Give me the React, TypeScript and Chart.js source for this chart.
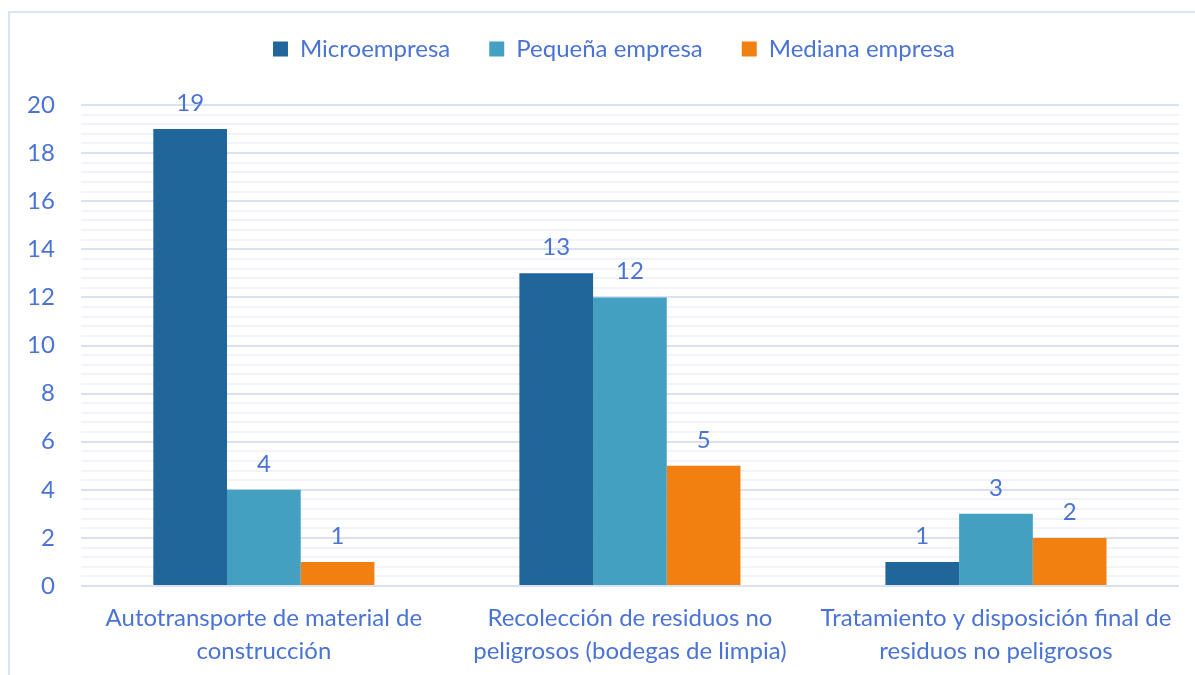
import React, { useEffect, useRef } from "react";
import { Chart, registerables } from "chart.js";

Chart.register(...registerables);

const categories: string[][] = [
  ["Autotransporte de material de", "construcción"],
  ["Recolección de residuos no", "peligrosos (bodegas de limpia)"],
  ["Tratamiento y disposición final de", "residuos no peligrosos"],
];
const seriesNames = ["Microempresa", "Pequeña empresa", "Mediana empresa"];
const micro = [19, 13, 1];
const pequena = [4, 12, 3];
const mediana = [1, 5, 2];
const seriesColors = ["#20669B", "#43A0C0", "#F18010"];

const yMin = 0;
const yMax = 20;
const yMinorStep = 0.4;
const yMajorStep = 2;

const TEXT = "#4A73D6";
const FONT = "Lato";
const FS = 24;

const isMajor = (v: number) => Math.abs(v / yMajorStep - Math.round(v / yMajorStep)) < 1e-6;

const valueLabels = {
  id: "valueLabels",
  afterDatasetsDraw(chart: any) {
    const ctx = chart.ctx;
    ctx.save();
    ctx.fillStyle = TEXT;
    ctx.font = `${FS}px ${FONT}`;
    ctx.textAlign = "center";
    ctx.textBaseline = "alphabetic";
    chart.data.datasets.forEach((ds: any, i: number) => {
      const meta = chart.getDatasetMeta(i);
      meta.data.forEach((bar: any, j: number) => {
        ctx.fillText(String(ds.data[j]), bar.x, bar.y - 18);
      });
    });
    ctx.restore();
  },
};

const legendGap = {
  id: "legendGap",
  beforeInit(chart: any) {
    const legend = chart.legend;
    if (!legend) return;
    const orig = legend.fit;
    legend.fit = function () {
      orig.call(this);
      this.height += 34;
    };
  },
  afterLayout(chart: any) {
    const legend = chart.legend;
    if (!legend) return;
    legend.left += 24;
    legend.right += 24;
  },
};

export default function App() {
  const ref = useRef<HTMLCanvasElement | null>(null);
  useEffect(() => {
    if (!ref.current) return;
    const chart = new Chart(ref.current, {
      type: "bar",
      data: {
        labels: categories,
        datasets: [micro, pequena, mediana].map((d, i) => ({
          label: seriesNames[i],
          data: d,
          backgroundColor: seriesColors[i],
          barPercentage: 1,
          categoryPercentage: 0.604,
        })),
      },
      options: {
        responsive: false,
        animation: false,
        layout: { padding: { left: 1, right: 16, top: -2, bottom: -1 } },
        plugins: {
          legend: {
            position: "top",
            labels: {
              color: TEXT,
              font: { family: FONT, size: FS },
              boxWidth: 15,
              boxHeight: 15,
              padding: 39,
            },
          },
          tooltip: { enabled: false },
        },
        scales: {
          x: {
            grid: { display: false },
            border: { display: false },
            ticks: {
              color: TEXT,
              font: { family: FONT, size: FS, lineHeight: 1.375 },
              padding: 8,
              maxRotation: 0,
              autoSkip: false,
            },
          },
          y: {
            min: yMin,
            max: yMax,
            border: { display: false },
            grid: {
              drawTicks: false,
              lineWidth: 2,
              color: (c: any) => (isMajor(c.tick.value) ? "#D9E1F5" : "#F0F3FA"),
            },
            ticks: {
              stepSize: yMinorStep,
              autoSkip: false,
              color: TEXT,
              font: { family: FONT, size: FS },
              padding: 26,
              callback: (v: any) => (isMajor(Number(v)) ? String(Math.round(Number(v))) : ""),
            },
          },
        },
      },
      plugins: [valueLabels, legendGap],
    });
    return () => chart.destroy();
  }, []);
  return (
    <div style={{ position: "fixed", left: 0, top: 0, width: 1195, height: 675, background: "#fff", overflow: "hidden" }}>
      <div
        style={{
          position: "absolute",
          left: 8,
          top: 11,
          width: 1300,
          height: 800,
          border: "2px solid #DAE2F6",
          boxSizing: "border-box",
        }}
      />
      <canvas ref={ref} width={1195} height={675} style={{ position: "absolute", left: 0, top: 0 }} />
    </div>
  );
}
